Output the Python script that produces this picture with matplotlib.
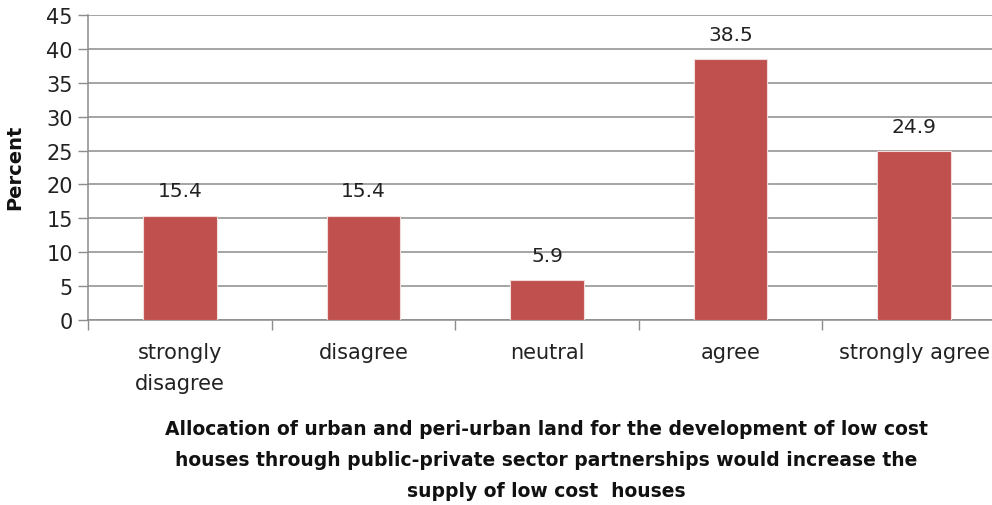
import matplotlib.pyplot as plt

categories = ["strongly\ndisagree", "disagree", "neutral", "agree", "strongly agree"]
percent = [15.4, 15.4, 5.9, 38.5, 24.9]
yticks = [0, 5, 10, 15, 20, 25, 30, 35, 40, 45]

plt.rcParams['font.family'] = ['DejaVu Sans']

fig = plt.figure(figsize=(9.92, 5.06), dpi=100)
ax = fig.add_axes([88 / 992, 185 / 506, 918 / 992, 305 / 506])

x = list(range(len(categories)))
bars = ax.bar(x, percent, width=0.4, color='#C0504D', edgecolor='#F2DCDB',
              linewidth=0.8, zorder=3)

for xi, v in zip(x, percent):
    ax.annotate(f"{v}", (xi, v), xytext=(0, 11), textcoords='offset points',
                ha='center', va='bottom', fontsize=14.5, color='#222222')

ax.set_xlim(-0.5, len(categories) - 0.5)
ax.set_ylim(0, 45)
ax.set_yticks(yticks)
ax.yaxis.grid(True, color='#8C8C8C', linewidth=1.1, zorder=0)

# category boundaries carry the tick marks, labels sit in the middle
ax.set_xticks([i - 0.5 for i in range(len(categories) + 1)])
ax.set_xticklabels([])
ax.set_xticks(x, minor=True)
ax.set_xticklabels(categories, minor=True, fontsize=15, color='#222222',
                   linespacing=1.65)
ax.tick_params(axis='x', which='minor', length=0, pad=16)
ax.tick_params(axis='x', which='major', length=7, color='#8C8C8C', width=1)
ax.tick_params(axis='y', length=7, color='#8C8C8C', width=1, labelsize=15,
               labelcolor='#222222', pad=4)

for s in ['top', 'right']:
    ax.spines[s].set_visible(False)
for s in ['left', 'bottom']:
    ax.spines[s].set_color('#8C8C8C')
    ax.spines[s].set_linewidth(1.1)

fig.text(15 / 992, 1 - 167 / 506, "Percent", rotation=90, ha='center',
         va='center', fontsize=14, fontweight='bold', color='#111111')

fig.text(546 / 992, 1 - 461 / 506,
         "Allocation of urban and peri-urban land for the development of low cost\n"
         "houses through public-private sector partnerships would increase the\n"
         "supply of low cost  houses",
         ha='center', va='center', fontsize=13.5, fontweight='bold',
         linespacing=1.8, color='#111111')

fig.savefig("out.png", dpi=100)
